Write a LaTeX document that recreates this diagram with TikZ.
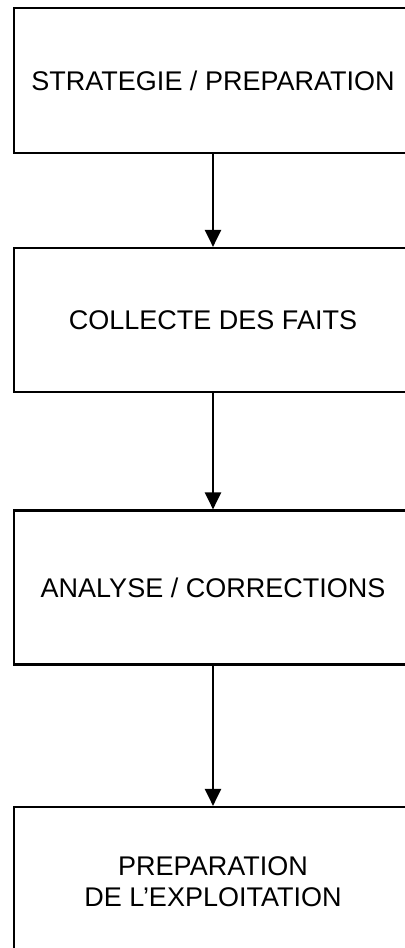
\documentclass[tikz,border=0pt]{standalone}
\usepackage{fontspec}
\setmainfont{Liberation Sans}
\usetikzlibrary{arrows.meta,positioning}

\tikzset{
  stage/.style={draw, line width=1.1pt, minimum width=199pt, align=center,
    inner sep=0pt, font=\fontsize{13.5}{15.5}\selectfont},
  flow/.style={line width=1.1pt, -{Triangle[length=8.5pt,width=8pt]}}
}

\begin{document}
\begin{tikzpicture}[x=0.5pt,y=0.5pt,yscale=-1,xscale=1]
        \useasboundingbox (0,0) rectangle (405,948);
        \clip (0,0) rectangle (405,948);

        %Shape: Rectangle [strategie]
        \node [stage, minimum height=72.5pt] (strat) at (213,80.5) {STRATEGIE / PREPARATION};
        %Shape: Rectangle [collecte]
        \node [stage, minimum height=72pt] (coll) at (213,320) {COLLECTE DES FAITS};
        %Shape: Rectangle [analyse]
        \node [stage, minimum height=77pt] (anal) at (213,587.5) {ANALYSE / CORRECTIONS};
        %Shape: Rectangle [exploitation]
        \node [stage, minimum height=75pt] (expl) at (213,882) {PREPARATION\\DE L'EXPLOITATION};

        %Straight Lines
        \draw [flow] (strat) -- (coll);
        \draw [flow] (coll) -- (anal);
        \draw [flow] (anal) -- (expl);
\end{tikzpicture}
\end{document}
